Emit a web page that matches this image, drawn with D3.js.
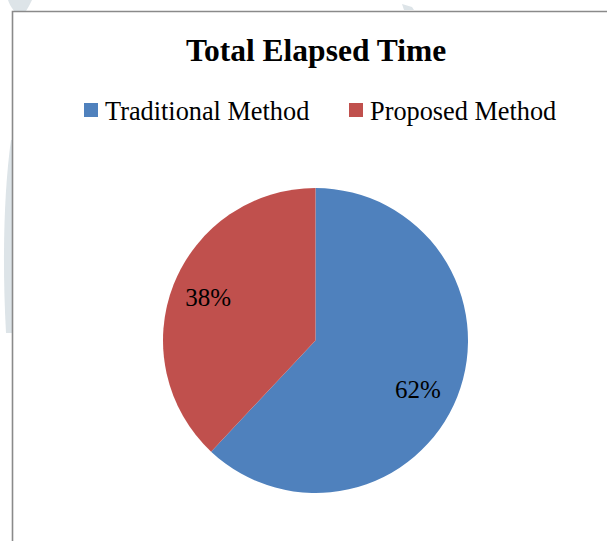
<!DOCTYPE html>
<html>
<head>
<meta charset="utf-8">
<script src="https://cdn.jsdelivr.net/npm/d3@7"></script>
<style>
html,body{margin:0;padding:0;background:#fff;}
svg{display:block;}
</style>
</head>
<body>
<svg id="chart" width="607" height="541"></svg>
<script>
const categories = ["Traditional Method", "Proposed Method"];
const values = [62, 38];
const labels = ["62%", "38%"];
const colors = ["#4F81BD", "#C0504D"];
const title = "Total Elapsed Time";

const svg = d3.select("#chart");
const W = 607, H = 541;

// faint background watermark shapes (outside the chart frame)
svg.append("path")
  .attr("d", "M11,140 C4,190 2,260 6,333 L12,333 L12,140 Z")
  .attr("fill", "#dde4e8");
svg.append("path")
  .attr("d", "M8,0 L32,0 C30,4 28,8 26,11 L14,11 C11,7 9,3 8,0 Z")
  .attr("fill", "#dde4e8");
svg.append("path")
  .attr("d", "M402,4 L412,7 L414,10 L404,10 Z")
  .attr("fill", "#dde4e8");

// chart frame
svg.append("path")
  .attr("d", `M12.5,${H} L12.5,11.5 L${W},11.5`)
  .attr("fill", "none")
  .attr("stroke", "#8a8a8a")
  .attr("stroke-width", 1.6);

// title
svg.append("text")
  .attr("x", 316).attr("y", 61)
  .attr("text-anchor", "middle")
  .attr("font-family", "'Liberation Serif','Times New Roman',serif")
  .attr("font-weight", "bold")
  .attr("font-size", 31.5)
  .attr("fill", "#000")
  .text(title);

// legend
const legendX = d3.scaleOrdinal().domain(categories).range([84, 349]);
const leg = svg.append("g").selectAll("g").data(categories).join("g")
  .attr("transform", d => `translate(${legendX(d)},0)`);
leg.append("rect")
  .attr("x", 0).attr("y", 103).attr("width", 14).attr("height", 14)
  .attr("fill", (d, i) => colors[i]);
leg.append("text")
  .attr("x", 21).attr("y", 120)
  .attr("font-family", "'Liberation Serif','Times New Roman',serif")
  .attr("font-size", 26.3)
  .attr("fill", "#000")
  .text(d => d);

// pie
const cx = 315.5, cy = 340.5, r = 152.5;
const pie = d3.pie().sort(null).value(d => d)(values);
const arc = d3.arc().innerRadius(0).outerRadius(r);
const g = svg.append("g").attr("transform", `translate(${cx},${cy})`);
g.selectAll("path").data(pie).join("path")
  .attr("d", arc)
  .attr("fill", (d, i) => colors[i]);

const labelArc = d3.arc().innerRadius(r * 0.75).outerRadius(r * 0.75);
const nudge = [[-4, 7], [-1, -1]];
g.selectAll("text").data(pie).join("text")
  .attr("transform", (d, i) => { const c = labelArc.centroid(d); return `translate(${c[0] + nudge[i][0]},${c[1] + nudge[i][1]})`; })
  .attr("text-anchor", "middle")
  .attr("dy", "0.35em")
  .attr("font-family", "'Liberation Serif','Times New Roman',serif")
  .attr("font-size", 25)
  .attr("fill", "#000")
  .text((d, i) => labels[i]);
</script>
</body>
</html>
